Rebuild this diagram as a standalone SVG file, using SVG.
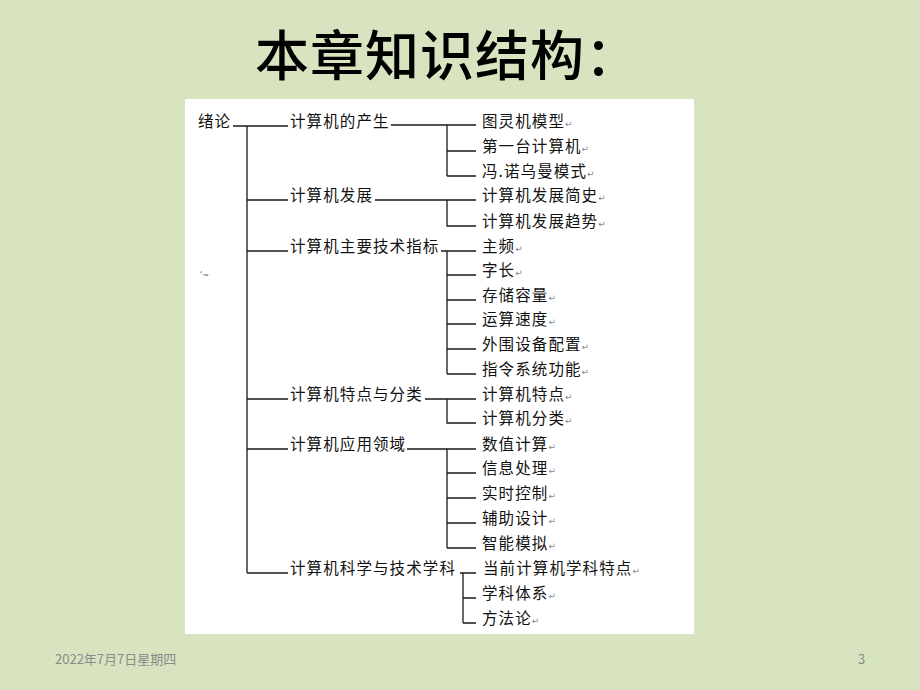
<svg xmlns="http://www.w3.org/2000/svg" width="920" height="690" viewBox="0 0 920 690">
<defs>
<style>
.t{font-family:"Noto Sans CJK SC","Liberation Sans",sans-serif;font-size:15.5px;letter-spacing:1.1px;fill:#111}
.r{font-family:"DejaVu Sans",sans-serif;font-size:9px;fill:#8a8a8a;letter-spacing:0}
.ln{fill:none;stroke:#1a1a1a;stroke-width:1.3}
</style>
</defs>
<rect x="0" y="0" width="920" height="690" fill="#d8e4bf"/>
<text x="255" y="76" font-family="'Noto Sans CJK SC',sans-serif" font-size="54" font-weight="500" letter-spacing="1" fill="#000">本章知识结构：</text>
<rect x="185" y="99" width="509" height="535" fill="#ffffff"/>
<g id="connectors" class="ln">
<path d="M233,126H288M247,126V573M247,200H288M247,251H288M247,399H288M247,449H288M247,573H288"/>
<path d="M391,125H476M447,125V176M447,151H476M447,176H476"/>
<path d="M375,200H476M447,200V226H476"/>
<path d="M441,251H476M447,251V374M447,275H476M447,300H476M447,324H476M447,349H476M447,374H476"/>
<path d="M425,399H476M447,399V423H476"/>
<path d="M407,449H476M447,449V548M447,473H476M447,498H476M447,523H476M447,548H476"/>
<path d="M460,573H476M463,573V623M463,598H476M463,623H476"/>
</g>
<g id="root"><text class="t" x="198" y="127">绪论</text></g>
<g id="mark"><text x="200" y="278" font-family="'DejaVu Sans',sans-serif" font-size="8" fill="#555">‘~</text></g>
<g id="n1"><text class="t" x="290" y="127">计算机的产生</text></g>
<g id="n2"><text class="t" x="290" y="201">计算机发展</text></g>
<g id="n3"><text class="t" x="290" y="252">计算机主要技术指标</text></g>
<g id="n4"><text class="t" x="290" y="400">计算机特点与分类</text></g>
<g id="n5"><text class="t" x="290" y="450">计算机应用领域</text></g>
<g id="n6"><text class="t" x="290" y="574">计算机科学与技术学科</text></g>
<g id="n1a"><text class="t" x="482" y="127">图灵机模型<tspan class="r">↵</tspan></text></g>
<g id="n1b"><text class="t" x="482" y="152">第一台计算机<tspan class="r">↵</tspan></text></g>
<g id="n1c"><text class="t" x="482" y="177">冯.诺乌曼模式<tspan class="r">↵</tspan></text></g>
<g id="n2a"><text class="t" x="482" y="201">计算机发展简史<tspan class="r">↵</tspan></text></g>
<g id="n2b"><text class="t" x="482" y="227">计算机发展趋势<tspan class="r">↵</tspan></text></g>
<g id="n3a"><text class="t" x="482" y="252">主频<tspan class="r">↵</tspan></text></g>
<g id="n3b"><text class="t" x="482" y="276">字长<tspan class="r">↵</tspan></text></g>
<g id="n3c"><text class="t" x="482" y="301">存储容量<tspan class="r">↵</tspan></text></g>
<g id="n3d"><text class="t" x="482" y="325">运算速度<tspan class="r">↵</tspan></text></g>
<g id="n3e"><text class="t" x="482" y="350">外围设备配置<tspan class="r">↵</tspan></text></g>
<g id="n3f"><text class="t" x="482" y="375">指令系统功能<tspan class="r">↵</tspan></text></g>
<g id="n4a"><text class="t" x="482" y="400">计算机特点<tspan class="r">↵</tspan></text></g>
<g id="n4b"><text class="t" x="482" y="424">计算机分类<tspan class="r">↵</tspan></text></g>
<g id="n5a"><text class="t" x="482" y="450">数值计算<tspan class="r">↵</tspan></text></g>
<g id="n5b"><text class="t" x="482" y="474">信息处理<tspan class="r">↵</tspan></text></g>
<g id="n5c"><text class="t" x="482" y="499">实时控制<tspan class="r">↵</tspan></text></g>
<g id="n5d"><text class="t" x="482" y="524">辅助设计<tspan class="r">↵</tspan></text></g>
<g id="n5e"><text class="t" x="482" y="549">智能模拟<tspan class="r">↵</tspan></text></g>
<g id="n6a"><text class="t" x="483" y="574">当前计算机学科特点<tspan class="r">↵</tspan></text></g>
<g id="n6b"><text class="t" x="482" y="599">学科体系<tspan class="r">↵</tspan></text></g>
<g id="n6c"><text class="t" x="482" y="624">方法论<tspan class="r">↵</tspan></text></g>
<text x="55" y="664" font-family="'Noto Sans CJK SC',sans-serif" font-size="13" fill="#8a8a8a">2022年7月7日星期四</text>
<text x="858" y="664" font-family="'Noto Sans CJK SC',sans-serif" font-size="13" fill="#8a8a8a">3</text>
</svg>
